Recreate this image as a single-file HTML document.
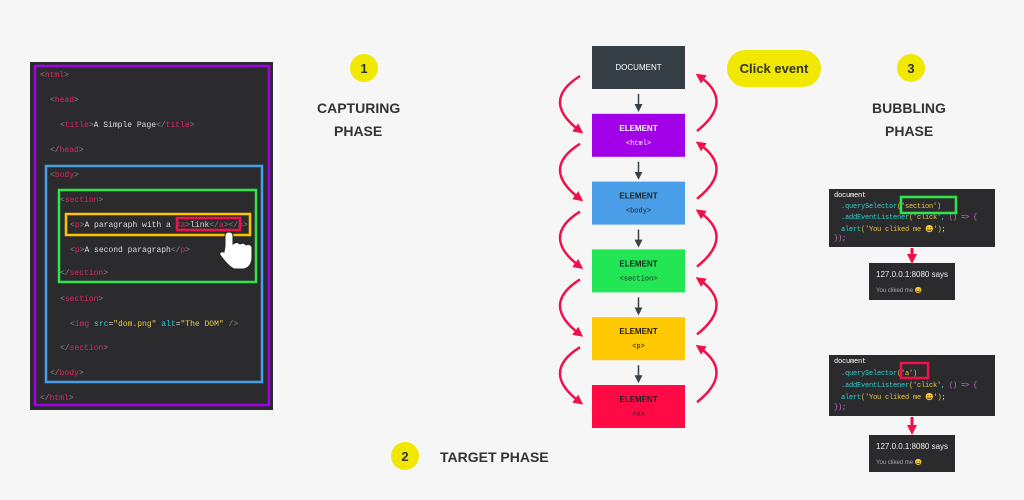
<!DOCTYPE html>
<html><head><meta charset="utf-8"><style>
body{margin:0;width:1024px;height:500px;background:#f6f6f6;overflow:hidden;font-family:"Liberation Sans",sans-serif}
svg{position:absolute;left:0;top:0}
.code{position:absolute;background:#2b2b2d;font-family:"Liberation Mono",monospace;font-size:8px;color:#ddd}
.code div{position:absolute;white-space:pre}
.sm{font-size:7px;letter-spacing:-0.2px}
.t{color:#e0245e}.g{color:#888}.y{color:#e8c94a}.c{color:#3cc}.m{color:#c7c}
</style></head><body>
<div class="code" style="left:30px;top:62px;width:243px;height:348px">
<div style="left:10px;top:9px"><span class="g">&lt;</span><span class="t">html</span><span class="g">&gt;</span></div>
<div style="left:20px;top:34px"><span class="g">&lt;</span><span class="t">head</span><span class="g">&gt;</span></div>
<div style="left:30px;top:59px"><span class="g">&lt;</span><span class="t">title</span><span class="g">&gt;</span>A Simple Page<span class="g">&lt;/</span><span class="t">title</span><span class="g">&gt;</span></div>
<div style="left:20px;top:84px"><span class="g">&lt;/</span><span class="t">head</span><span class="g">&gt;</span></div>
<div style="left:20px;top:109px"><span class="g">&lt;</span><span class="t">body</span><span class="g">&gt;</span></div>
<div style="left:30px;top:134px"><span class="g">&lt;</span><span class="t">section</span><span class="g">&gt;</span></div>
<div style="left:40px;top:159px"><span class="g">&lt;</span><span class="t">p</span><span class="g">&gt;</span>A paragraph with a <span class="g">&lt;</span><span class="t">a</span><span class="g">&gt;</span>link<span class="g">&lt;/</span><span class="t">a</span><span class="g">&gt;&lt;/</span><span class="t">p</span><span class="g">&gt;</span></div>
<div style="left:40px;top:184px"><span class="g">&lt;</span><span class="t">p</span><span class="g">&gt;</span>A second paragraph<span class="g">&lt;/</span><span class="t">p</span><span class="g">&gt;</span></div>
<div style="left:30px;top:207px"><span class="g">&lt;/</span><span class="t">section</span><span class="g">&gt;</span></div>
<div style="left:30px;top:233px"><span class="g">&lt;</span><span class="t">section</span><span class="g">&gt;</span></div>
<div style="left:40px;top:258px"><span class="g">&lt;</span><span class="t">img</span> <span class="c">src</span>=<span class="y">"dom.png"</span> <span class="c">alt</span>=<span class="y">"The DOM"</span> <span class="g">/&gt;</span></div>
<div style="left:30px;top:282px"><span class="g">&lt;/</span><span class="t">section</span><span class="g">&gt;</span></div>
<div style="left:20px;top:307px"><span class="g">&lt;/</span><span class="t">body</span><span class="g">&gt;</span></div>
<div style="left:10px;top:332px"><span class="g">&lt;/</span><span class="t">html</span><span class="g">&gt;</span></div>
</div>

<div class="code sm" style="left:829px;top:189px;width:166px;height:58px">
<div style="left:5px;top:3px;color:#fff">document</div>
<div style="left:12px;top:14px" class="c">.querySelector<span class="y">('section')</span></div>
<div style="left:12px;top:25px" class="c">.addEventListener<span class="y">('click'</span>, <span class="m">() =&gt; {</span></div>
<div style="left:12px;top:36px"><span class="c">alert</span><span class="y">('You cliked me 😀')</span>;</div>
<div style="left:5px;top:46px" class="m">});</div>
</div>
<div class="code sm" style="left:829px;top:355px;width:166px;height:61px">
<div style="left:5px;top:3px;color:#fff">document</div>
<div style="left:12px;top:15px" class="c">.querySelector<span class="y">('a')</span></div>
<div style="left:12px;top:27px" class="c">.addEventListener<span class="y">('click'</span>, <span class="m">() =&gt; {</span></div>
<div style="left:12px;top:38px"><span class="c">alert</span><span class="y">('You cliked me 😀')</span>;</div>
<div style="left:5px;top:49px" class="m">});</div>
</div>
<div class="code" style="left:869px;top:263px;width:86px;height:37px;font-family:'Liberation Sans',sans-serif">
<div style="left:7px;top:7px;font-size:8px;color:#eee">127.0.0.1:8080 says</div>
<div style="left:7px;top:24px;font-size:6px;color:#aaa">You cliked me 😀</div></div>
<div class="code" style="left:869px;top:435px;width:86px;height:37px;font-family:'Liberation Sans',sans-serif">
<div style="left:7px;top:7px;font-size:8px;color:#eee">127.0.0.1:8080 says</div>
<div style="left:7px;top:24px;font-size:6px;color:#aaa">You cliked me 😀</div></div>

<svg width="1024" height="500" id="s">
<defs>
<marker id="ar" markerUnits="userSpaceOnUse" markerWidth="10" markerHeight="10" refX="6" refY="5" orient="auto"><path d="M0,0L10,5L0,10z" fill="#f0104a"/></marker>
<marker id="ad" markerUnits="userSpaceOnUse" markerWidth="8" markerHeight="8" refX="5" refY="4" orient="auto"><path d="M0,0L8,4L0,8z" fill="#3a4045"/></marker>
</defs>
<g fill="none" stroke-width="2.5">
<rect x="35" y="66" width="234" height="339" stroke="#a100e8"/>
<rect x="46" y="166" width="216" height="216" stroke="#4a9ee8"/>
<rect x="59" y="190" width="197" height="92" stroke="#2ee64c"/>
<rect x="66" y="214" width="184" height="21" stroke="#ffc400"/>
<rect x="177" y="218" width="63" height="12" stroke="#f0104a"/>
<rect x="901" y="197" width="55" height="16" stroke="#2ee64c"/>
<rect x="901" y="363" width="27" height="15" stroke="#f0104a"/>
</g>
<path d="M225,246 v-10 q0,-4 4,-4 q4,0 4,4 v8 q4,-3 7,0 q4,-2 6,1 q4,-2 6,2 v10 q0,10 -8,12 h-10 q-6,-3 -14,-14 q-1,-4 4,-3z" fill="#fff" stroke="#222"/>
<g fill="#f0e800">
<circle cx="364" cy="68" r="14"/>
<circle cx="405" cy="456" r="14"/>
<circle cx="911" cy="68" r="14"/>
<rect x="727" y="50" width="94" height="37" rx="18.5"/>
</g>
<g font-weight="bold" fill="#333" font-size="14">
<text x="364" y="73" text-anchor="middle" font-size="13">1</text>
<text x="405" y="461" text-anchor="middle" font-size="13">2</text>
<text x="911" y="73" text-anchor="middle" font-size="13">3</text>
<text x="774" y="73" text-anchor="middle" font-size="13">Click event</text>
<text x="317" y="113">CAPTURING</text>
<text x="334" y="136">PHASE</text>
<text x="440" y="462">TARGET PHASE</text>
<text x="872" y="113">BUBBLING</text>
<text x="885" y="136">PHASE</text>
</g>
<g stroke="#f0104a" stroke-width="3" fill="none">
<line x1="912" y1="248" x2="912" y2="260" marker-end="url(#ar)"/>
<line x1="912" y1="417" x2="912" y2="431" marker-end="url(#ar)"/>
</g>
<g id="flow"></g>
</svg>
<script>
const names=["DOCUMENT","ELEMENT","ELEMENT","ELEMENT","ELEMENT","ELEMENT"];
const tags=["","<html>","<body>","<section>","<p>","<a>"];
const fills=["#343e44","#a100e8","#4a9ee8","#23e655","#ffc800","#ff0a45"];
const txt=["#fff","#fff","#222","#222","#222","#222"];
const g=document.getElementById('flow');const NS='http://www.w3.org/2000/svg';
function mk(t,a){const e=document.createElementNS(NS,t);for(const k in a)e.setAttribute(k,a[k]);g.appendChild(e);return e;}
names.forEach((n,i)=>{const y=46+i*67.8;
const r=mk('rect',{x:592,y:y,width:93,height:43,fill:fills[i]});


const t=mk('text',{x:638.5,y:tags[i]?y+17:y+24,'text-anchor':'middle','font-size':'8','font-weight':tags[i]?'bold':'normal',fill:txt[i]});t.textContent=n;
if(tags[i]){const t2=mk('text',{x:638.5,y:y+31,'text-anchor':'middle','font-size':'7','font-family':'Liberation Mono',fill:txt[i]});t2.textContent=tags[i];}
if(i<5){
mk('line',{x1:638.5,y1:y+48,x2:638.5,y2:y+63,stroke:'#3a4045','stroke-width':1.5,'marker-end':'url(#ad)'});
mk('path',{d:`M580,${y+30} Q540,${y+55} 580,${y+85}`,stroke:'#f0104a','stroke-width':2.5,fill:'none','marker-end':'url(#ar)'});
mk('path',{d:`M697,${y+85} Q735,${y+55} 699,${y+30}`,stroke:'#f0104a','stroke-width':2.5,fill:'none','marker-end':'url(#ar)'});
}});
</script>
</body></html>
